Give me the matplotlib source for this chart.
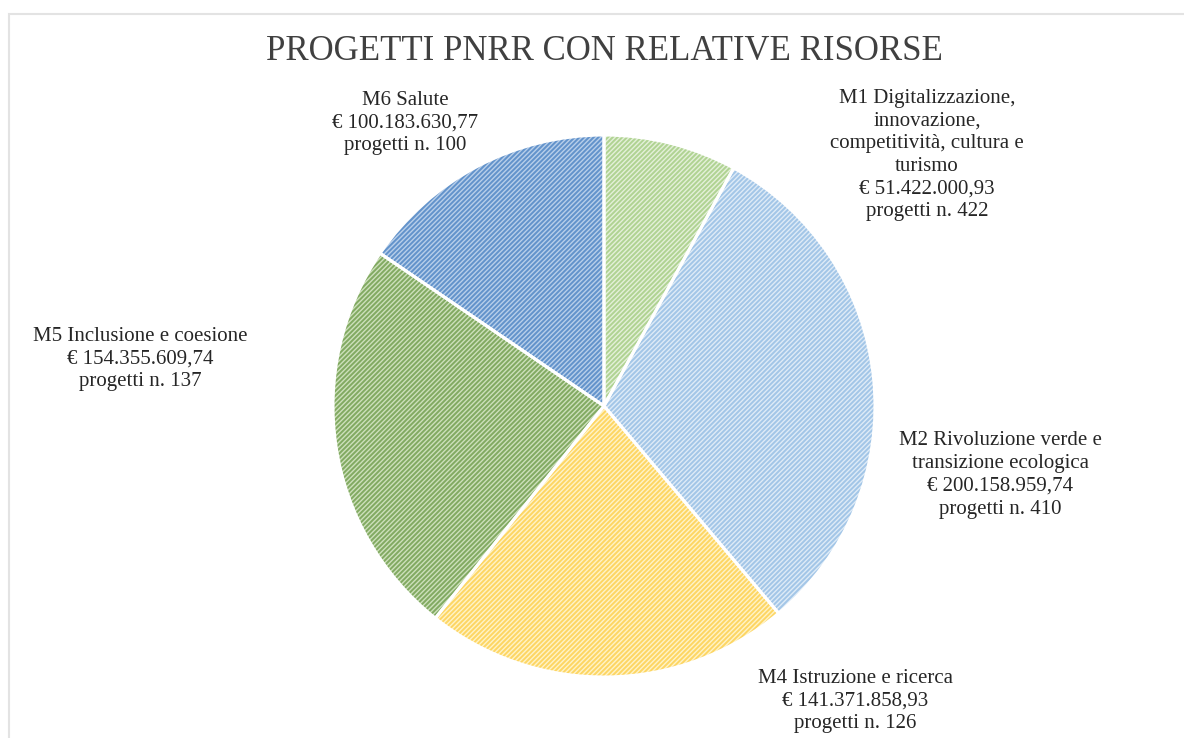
import matplotlib
matplotlib.use("Agg")
import matplotlib.pyplot as plt
from matplotlib.patches import Rectangle

plt.rcParams['hatch.linewidth'] = 1.0

names = ["M1 Digitalizzazione,\ninnovazione,\ncompetitività, cultura e\nturismo",
         "M2 Rivoluzione verde e\ntransizione ecologica",
         "M4 Istruzione e ricerca",
         "M5 Inclusione e coesione",
         "M6 Salute"]
amounts = [51422000.93, 200158959.74, 141371858.93, 154355609.74, 100183630.77]
amount_labels = ["€ 51.422.000,93", "€ 200.158.959,74", "€ 141.371.858,93",
                 "€ 154.355.609,74", "€ 100.183.630,77"]
projects = [422, 410, 126, 137, 100]

base_colors = ["#b0d393", "#a3c6e7", "#fdd664", "#82aa62", "#6393cb"]
stripe_colors = ["#e4f0d9", "#deebf7", "#fff3c8", "#cde0bb", "#b8cfea"]

W, H = 1184, 738
fig = plt.figure(figsize=(W / 100, H / 100), dpi=100, facecolor="white")

# frame border
fig.patches.append(Rectangle((9 / W, -0.1), 1.2, 1 - 14 / H + 0.1, transform=fig.transFigure,
                             fill=False, edgecolor="#e3e3e3", linewidth=1.5))

cx, cy, r = 604, 406, 271
ax = fig.add_axes([(cx - r) / W, (H - cy - r) / H, 2 * r / W, 2 * r / H])

wedges, _ = ax.pie(amounts, startangle=90, counterclock=False, radius=1,
                   colors=base_colors, wedgeprops=dict(linewidth=0))
for w, sc in zip(wedges, stripe_colors):
    w.set_hatch("///////")
    w.set_edgecolor(sc)
    w.set_linewidth(0)

outline, _ = ax.pie(amounts, startangle=90, counterclock=False, radius=1,
                    wedgeprops=dict(fill=False, edgecolor="white", linewidth=2.2))
ax.set_xlim(-1, 1)
ax.set_ylim(-1, 1)
ax.axis("off")

fig.text(cx / W, 1 - 51 / H, "PROGETTI PNRR CON RELATIVE RISORSE",
         ha="center", va="center", fontsize=25, family="Liberation Serif",
         color="#404040")

label_pos = [(927, 155), (1000, 475), (855, 701), (140, 359), (405, 123)]
for name, amt, p, (px, py) in zip(names, amount_labels, projects, label_pos):
    fig.text(px / W, 1 - py / H, f"{name}\n{amt}\nprogetti n. {p}",
             ha="center", va="center", fontsize=15, family="Liberation Serif",
             color="#262626", linespacing=1.27)

fig.savefig("out.png", dpi=100, facecolor="white")
